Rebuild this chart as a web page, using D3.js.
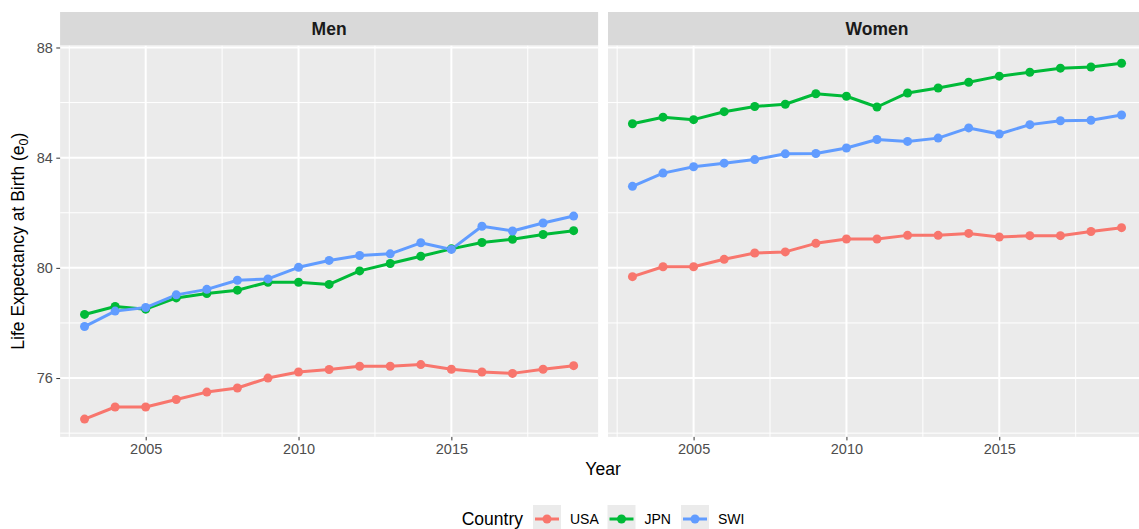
<!DOCTYPE html>
<html>
<head>
<meta charset="utf-8">
<script src="https://cdn.jsdelivr.net/npm/d3@7"></script>
<style>
  body { margin: 0; background: #fff; }
  text { font-family: "Liberation Sans", Arial, Helvetica, sans-serif; }
</style>
</head>
<body>
<svg id="chart" width="1139" height="529"></svg>
<script>
// Life expectancy at birth, 2003–2019, by sex and country
const years = [2003, 2004, 2005, 2006, 2007, 2008, 2009, 2010, 2011, 2012, 2013, 2014, 2015, 2016, 2017, 2018, 2019];
const countries = ["USA", "JPN", "SWI"];
const sexes = ["Men", "Women"];

const menUSA = [74.51, 74.95, 74.95, 75.22, 75.49, 75.64, 76.00, 76.22, 76.31, 76.43, 76.43, 76.49, 76.32, 76.22, 76.17, 76.32, 76.45];
const menJPN = [78.31, 78.60, 78.50, 78.91, 79.07, 79.19, 79.48, 79.48, 79.40, 79.89, 80.16, 80.42, 80.69, 80.92, 81.04, 81.21, 81.35];
const menSWI = [77.87, 78.43, 78.56, 79.02, 79.22, 79.55, 79.60, 80.02, 80.27, 80.45, 80.51, 80.91, 80.67, 81.51, 81.34, 81.63, 81.88];

const womenUSA = [79.68, 80.04, 80.04, 80.31, 80.54, 80.58, 80.89, 81.05, 81.05, 81.18, 81.18, 81.25, 81.12, 81.17, 81.17, 81.32, 81.46];
const womenJPN = [85.23, 85.47, 85.38, 85.67, 85.86, 85.94, 86.32, 86.23, 85.84, 86.35, 86.53, 86.74, 86.96, 87.10, 87.25, 87.29, 87.43];
const womenSWI = [82.96, 83.44, 83.67, 83.80, 83.93, 84.14, 84.15, 84.35, 84.66, 84.59, 84.71, 85.08, 84.86, 85.20, 85.34, 85.36, 85.55];

const yMajorTicks = [76, 80, 84, 88];
const yMinorTicks = [74, 78, 82, 86];
const xMajorTicks = [2005, 2010, 2015];
const xMinorTicks = [2002.5, 2007.5, 2012.5, 2017.5];

const colors = { USA: "#F8766D", JPN: "#00BA38", SWI: "#619CFF" };

const panels = [
  { sex: "Men",   series: { USA: menUSA,   JPN: menJPN,   SWI: menSWI } },
  { sex: "Women", series: { USA: womenUSA, JPN: womenJPN, SWI: womenSWI } }
];

// ---- layout ----
const panelW = 538, panelTop = 45.4, panelH = 391.5, stripH = 33.4;
const panelLeft = [60.1, 608];

const svg = d3.select("#chart");

// ggplot-style 5% expansion of the data range
const xExt = d3.extent(years);
const xPad = (xExt[1] - xExt[0]) * 0.05;
const x = d3.scaleLinear().domain([xExt[0] - xPad, xExt[1] + xPad]).range([0, panelW]);

const allVals = panels.flatMap(p => countries.flatMap(c => p.series[c]));
const yExt = d3.extent(allVals);
const yPad = (yExt[1] - yExt[0]) * 0.05;
const y = d3.scaleLinear().domain([yExt[0] - yPad, yExt[1] + yPad]).range([panelH, 0]);

const defs = svg.append("defs");
defs.append("clipPath").attr("id", "panel-clip")
  .append("rect").attr("width", panelW).attr("height", panelH);

panels.forEach((p, i) => {
  const g = svg.append("g").attr("transform", `translate(${panelLeft[i]},${panelTop})`);

  // strip
  g.append("rect").attr("x", 0).attr("y", -stripH).attr("width", panelW).attr("height", stripH)
    .attr("fill", "#D9D9D9");
  g.append("text").attr("x", panelW / 2).attr("y", -stripH / 2 + 6)
    .attr("text-anchor", "middle").attr("font-size", 17.5).attr("font-weight", "bold")
    .attr("fill", "#1A1A1A").text(p.sex);

  // panel background
  g.append("rect").attr("width", panelW).attr("height", panelH).attr("fill", "#EBEBEB");

  const grid = g.append("g").attr("clip-path", "url(#panel-clip)");
  grid.selectAll(".ymin").data(yMinorTicks).join("line")
    .attr("x1", 0).attr("x2", panelW).attr("y1", d => y(d)).attr("y2", d => y(d))
    .attr("stroke", "#fff").attr("stroke-width", 1);
  grid.selectAll(".xmin").data(xMinorTicks).join("line")
    .attr("y1", 0).attr("y2", panelH).attr("x1", d => x(d)).attr("x2", d => x(d))
    .attr("stroke", "#fff").attr("stroke-width", 1);
  grid.selectAll(".ymaj").data(yMajorTicks).join("line")
    .attr("x1", 0).attr("x2", panelW).attr("y1", d => y(d)).attr("y2", d => y(d))
    .attr("stroke", "#fff").attr("stroke-width", 2);
  grid.selectAll(".xmaj").data(xMajorTicks).join("line")
    .attr("y1", 0).attr("y2", panelH).attr("x1", d => x(d)).attr("x2", d => x(d))
    .attr("stroke", "#fff").attr("stroke-width", 2);

  // data
  const marks = g.append("g").attr("clip-path", "url(#panel-clip)");
  const line = d3.line().x((d, k) => x(years[k])).y(d => y(d));
  countries.forEach(c => {
    marks.append("path").datum(p.series[c]).attr("d", line)
      .attr("fill", "none").attr("stroke", colors[c]).attr("stroke-width", 3)
      .attr("stroke-linejoin", "round");
  });
  countries.forEach(c => {
    marks.selectAll(".pt-" + c).data(p.series[c]).join("circle")
      .attr("cx", (d, k) => x(years[k])).attr("cy", d => y(d)).attr("r", 4.5)
      .attr("fill", colors[c]);
  });

  // x axis
  const xAxis = g.append("g").attr("transform", `translate(0,${panelH})`)
    .call(d3.axisBottom(x).tickValues(xMajorTicks).tickFormat(d3.format("d")).tickSize(3.5).tickPadding(3));
  xAxis.select(".domain").remove();
  xAxis.selectAll(".tick line").attr("stroke", "#333333").attr("stroke-width", 1);
  xAxis.selectAll(".tick text").attr("fill", "#4D4D4D").attr("font-size", 14.5)
    .style("font-family", '"Liberation Sans", Arial, sans-serif');

  // y axis only on the first panel
  if (i === 0) {
    const yAxis = g.append("g")
      .call(d3.axisLeft(y).tickValues(yMajorTicks).tickSize(3.8).tickPadding(3.5));
    yAxis.select(".domain").remove();
    yAxis.selectAll(".tick line").attr("stroke", "#333333").attr("stroke-width", 1);
    yAxis.selectAll(".tick text").attr("fill", "#4D4D4D").attr("font-size", 14.5)
      .style("font-family", '"Liberation Sans", Arial, sans-serif');
  }
});

// axis titles
svg.append("text").attr("x", (panelLeft[0] + panelLeft[1] + panelW) / 2).attr("y", 475)
  .attr("text-anchor", "middle").attr("font-size", 17.5).attr("fill", "#000").text("Year");

const yTitle = svg.append("text")
  .attr("transform", `translate(24,${panelTop + panelH / 2}) rotate(-90)`)
  .attr("text-anchor", "middle").attr("font-size", 17.5).attr("fill", "#000");
yTitle.append("tspan").text("Life Expectancy at Birth (e");
yTitle.append("tspan").attr("font-size", 12.5).attr("dy", 4).text("0");
yTitle.append("tspan").attr("dy", -4).text(")");

// legend
const legend = svg.append("g").attr("transform", "translate(0,519)");
legend.append("text").attr("x", 523).attr("y", 6).attr("text-anchor", "end")
  .attr("font-size", 17.5).attr("fill", "#000").text("Country");
const keyX = [533, 607.5, 681];
countries.forEach((c, k) => {
  const kg = legend.append("g").attr("transform", `translate(${keyX[k]},0)`);
  kg.append("rect").attr("x", 0).attr("y", -14).attr("width", 28).attr("height", 28).attr("fill", "#EBEBEB");
  kg.append("line").attr("x1", 2).attr("x2", 26).attr("y1", 0).attr("y2", 0)
    .attr("stroke", colors[c]).attr("stroke-width", 3);
  kg.append("circle").attr("cx", 14).attr("cy", 0).attr("r", 4.5).attr("fill", colors[c]);
  kg.append("text").attr("x", 37).attr("y", 5).attr("font-size", 14).attr("fill", "#000").text(c);
});
</script>
</body>
</html>
